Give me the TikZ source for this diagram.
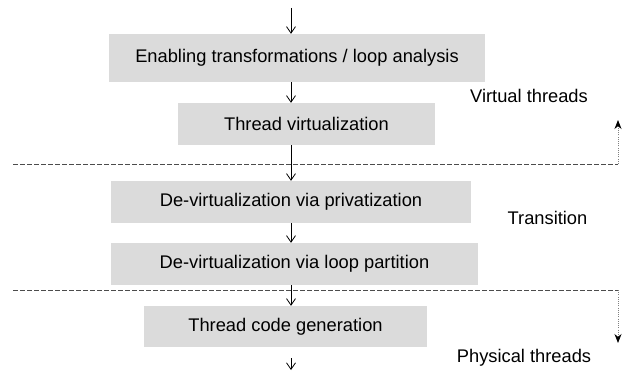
\documentclass[tikz,border=0pt]{standalone}
\usepackage{fontspec}
\setmainfont{Liberation Sans}
\usetikzlibrary{arrows.meta}
\begin{document}
\begin{tikzpicture}[x=1pt,y=-1pt,
  box/.style={fill=black!14, draw=none, inner sep=0pt, font=\fontsize{18.3}{20}\selectfont},
  lbl/.style={font=\fontsize{18.3}{20}\selectfont, inner sep=0pt},
  flow/.style={-{Straight Barb[length=6.5pt,width=9pt]}, line width=0.8pt},
  sep/.style={draw=black!70, line width=0.7pt, dash pattern=on 4.5pt off 2.5pt},
  side/.style={draw=black!50, line width=0.8pt, dash pattern=on 1pt off 1.2pt, -{Stealth[length=9pt,width=7pt,black]}}
]
\useasboundingbox (0,0) rectangle (626,371);
% boxes
\node[box, minimum width=376pt, minimum height=48pt] (b1) at (297,58) {Enabling transformations / loop analysis};
\node[box, minimum width=257pt, minimum height=42pt] (b2) at (306.5,124) {Thread virtualization};
\node[box, minimum width=360pt, minimum height=42pt] (b3) at (291,202) {De-virtualization via privatization};
\node[box, minimum width=367pt, minimum height=42pt] (b4) at (294.5,264) {De-virtualization via loop partition};
\node[box, minimum width=283pt, minimum height=41pt] (b5) at (285.5,326.5) {Thread code generation};
% side labels
\node[lbl] (vt) at (529,96) {Virtual threads};
\node[lbl] (tr) at (547.5,218) {Transition};
\node[lbl] (pt) at (524,358) {Physical threads};
% flow arrows
\coordinate (top) at (291,8);
\coordinate (bot) at (291,370);
\coordinate (b5out) at (291,358);
\draw[flow] (top) -- (b1.north -| top);
\draw[flow] (b1.south -| top) -- (b2.north -| top);
\draw[flow] (b2.south -| top) -- (b3.north -| top);
\draw[flow] (b3.south -| top) -- (b4.north -| top);
\draw[flow] (b4.south -| top) -- (b5.north -| top);
\draw[flow] (b5out) -- (bot);
% separators
\coordinate (d1l) at (13,164);
\coordinate (d1r) at (618,164);
\coordinate (up) at (618,120);
\coordinate (d2l) at (13,290);
\coordinate (d2r) at (618,290);
\coordinate (down) at (618,343);
\draw[sep] (d1l) -- (d1r);
\draw[sep] (d2l) -- (d2r);
\draw[side] (d1r) -- (up);
\draw[side] (d2r) -- (down);
\end{tikzpicture}
\end{document}
